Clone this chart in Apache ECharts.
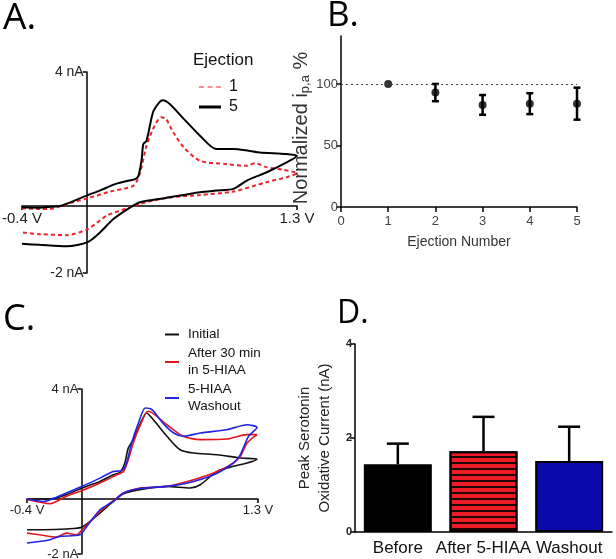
<!DOCTYPE html>
<html><head><meta charset="utf-8">
<script src="https://cdn.jsdelivr.net/npm/echarts@6/dist/echarts.min.js"></script>
<style>html,body{margin:0;padding:0;background:#fff}#c{width:616px;height:559px}</style>
</head><body><div id="c"></div>
<script>
// ---------- Panel A: cyclic voltammograms [potential (V), current (nA)] ----------
const cvA_ejection1 = [[-0.4,-0.07],[-0.3,-0.09],[-0.227,-0.09],[-0.125,0.06],[0.006,0.23],[0.144,0.43],[0.29,0.61],[0.33,1.0],[0.37,1.8],[0.41,2.3],[0.46,2.65],[0.49,2.6],[0.535,2.2],[0.6,1.75],[0.7,1.35],[0.865,1.25],[0.99,1.2],[1.04,1.28],[1.11,1.16],[1.215,1.08],[1.3,0.98],
  [1.236,0.86],[1.11,0.71],[0.906,0.43],[0.7,0.33],[0.49,0.24],[0.33,0.06],[0.247,-0.07],[0.124,-0.29],[0.006,-0.69],[-0.124,-0.87],[-0.29,-0.84],[-0.4,-0.79]];
const cvA_ejection5 = [[-0.4,-0.04],[-0.3,-0.05],[-0.2,-0.02],[-0.165,0.0],[-0.08,0.15],[0.0,0.31],[0.08,0.46],[0.18,0.66],[0.26,0.76],[0.3,0.8],[0.32,0.9],[0.34,1.4],[0.35,1.85],[0.37,1.95],[0.41,2.8],[0.45,3.1],[0.47,3.16],[0.515,3.04],[0.6,2.6],[0.7,2.1],[0.8,1.7],[0.906,1.7],[1.0,1.65],[1.07,1.6],[1.236,1.55],[1.3,1.5],
  [1.236,1.3],[1.11,1.0],[0.99,0.76],[0.906,0.51],[0.8,0.46],[0.7,0.41],[0.49,0.24],[0.33,0.11],[0.27,-0.04],[0.165,-0.39],[0.082,-0.79],[0.006,-1.08],[-0.124,-1.2],[-0.29,-1.16],[-0.4,-1.13]];
const cvRangeX = [-0.4, 1.3];
const cvRangeY = [-2, 4];

// ---------- Panel B ----------
const ejectionNumbers = [1, 2, 3, 4, 5];
const normalizedMean = [100, 93, 83, 84, 84];
const normalizedErr = [0, 7, 8, 8.5, 13];
const panelBTicksY = [0, 50, 100];

// ---------- Panel C ----------
const cvC_initial = [[-0.4,0],[-0.23,0],[-0.11,0.16],[0.006,0.4],[0.137,0.64],[0.235,0.88],[0.284,0.97],[0.32,1.31],[0.345,1.85],[0.382,2.16],[0.43,2.7],[0.48,3.13],[0.53,2.88],[0.63,2.28],[0.727,1.79],[0.825,1.67],[0.998,1.61],[1.17,1.49],[1.293,1.45],
  [1.22,1.31],[1.12,1.19],[0.998,1.0],[0.875,0.52],[0.8,0.4],[0.63,0.46],[0.43,0.34],[0.31,0.19],[0.235,-0.09],[0.137,-0.51],[0.006,-1.02],[-0.11,-1.09],[-0.28,-1.12],[-0.4,-1.12]];
const cvC_after = [[-0.4,-0.02],[-0.23,-0.17],[-0.11,0.1],[0.006,0.31],[0.137,0.58],[0.26,0.88],[0.31,1.0],[0.345,1.43],[0.382,2.04],[0.43,2.64],[0.49,3.19],[0.54,3.07],[0.63,2.7],[0.75,2.28],[0.875,2.16],[1.07,2.18],[1.22,2.34],[1.293,2.34],
  [1.22,2.04],[1.17,1.55],[1.12,1.31],[1.0,1.0],[0.825,0.7],[0.63,0.46],[0.43,0.4],[0.31,0.22],[0.235,-0.06],[0.137,-0.45],[0.006,-1.12],[-0.035,-1.3],[-0.11,-1.24],[-0.18,-1.38],[-0.31,-1.3],[-0.4,-1.24]];
const cvC_washout = [[-0.4,0],[-0.28,-0.09],[-0.11,0.22],[0.006,0.46],[0.137,0.76],[0.235,1.0],[0.3,1.04],[0.333,1.31],[0.37,2.04],[0.42,2.76],[0.47,3.31],[0.52,3.25],[0.6,2.76],[0.68,2.4],[0.75,2.28],[0.875,2.4],[1.07,2.52],[1.22,2.7],[1.293,2.6],
  [1.23,2.28],[1.17,1.61],[1.12,1.31],[1.0,0.94],[0.825,0.64],[0.63,0.46],[0.43,0.38],[0.31,0.22],[0.235,-0.09],[0.137,-0.39],[0.04,-1.0],[-0.01,-1.3],[-0.16,-1.36],[-0.23,-1.48],[-0.4,-1.6]];

// ---------- Panel D ----------
const conditions = ['Before', 'After 5-HIAA', 'Washout'];
const peakCurrent = [1.44, 1.72, 1.51];
const peakErr = [0.44, 0.73, 0.73];

const FONT = 'Liberation Sans';
const AXC = '#000';
const chart = echarts.init(document.getElementById('c'), null, {renderer: 'canvas'});

const grids = [
  {left: 22, top: 72, width: 275, height: 201, outerBoundsMode: 'none', containLabel: false},
  {left: 341, top: 36, width: 236, height: 171, outerBoundsMode: 'none', containLabel: false},
  {left: 27, top: 389, width: 231, height: 165, outerBoundsMode: 'none', containLabel: false},
  {left: 355, top: 344, width: 257, height: 188, outerBoundsMode: 'none', containLabel: false}
];

// the CV axes cross at the origin: shift each axis from the grid edge to the zero of the other axis
function cvAxisX(gi, fs) {
  const g = grids[gi];
  const off = -((0 - cvRangeY[0]) / (cvRangeY[1] - cvRangeY[0])) * g.height;
  return {type: 'value', gridIndex: gi, min: cvRangeX[0], max: cvRangeX[1], position: 'bottom', offset: off,
    axisLine: {onZero: false, lineStyle: {color: AXC, width: 1.5}},
    axisTick: {show: true, customValues: cvRangeX, length: 4, lineStyle: {color: AXC, width: 1.5}},
    axisLabel: {customValues: cvRangeX, formatter: v => v.toFixed(1) + ' V', fontSize: fs, color: '#222', margin: 5, fontFamily: FONT},
    splitLine: {show: false}};
}
function cvAxisY(gi, fs) {
  const g = grids[gi];
  const off = -((0 - cvRangeX[0]) / (cvRangeX[1] - cvRangeX[0])) * g.width;
  return {type: 'value', gridIndex: gi, min: cvRangeY[0], max: cvRangeY[1], position: 'left', offset: off,
    axisLine: {show: true, onZero: false, lineStyle: {color: AXC, width: 1.5}},
    axisTick: {show: true, customValues: cvRangeY, length: 4, lineStyle: {color: AXC, width: 1.5}},
    axisLabel: {customValues: cvRangeY, formatter: v => v + ' nA', fontSize: fs, color: '#222', margin: 3, fontFamily: FONT},
    splitLine: {show: false}};
}

const dashIcon = 'path://M0,0h4v1h-4z M7,0h4v1h-4z M14,0h4v1h-4z';

const option = {
  animation: false,
  textStyle: {fontFamily: FONT},
  title: [
    {text: 'A.', left: 3, top: 0, padding: 0, textStyle: {fontSize: 37, fontWeight: 'normal', fontFamily: 'Open Sans', color: '#000'}},
    {text: 'B.', left: 327, top: -1, padding: 0, textStyle: {fontSize: 35, fontWeight: 'normal', fontFamily: 'Open Sans', color: '#000'}},
    {text: 'C.', left: 3, top: 302, padding: 0, textStyle: {fontSize: 36, fontWeight: 'normal', fontFamily: 'Open Sans', color: '#000'}},
    {text: 'D.', left: 337, top: 298, padding: 0, textStyle: {fontSize: 32, fontWeight: 'normal', fontFamily: 'Open Sans', color: '#000'}},
    {text: 'Ejection', left: 193, top: 52, padding: 0, textStyle: {fontSize: 17, fontWeight: 'normal', fontFamily: FONT, color: '#111'}}
  ],
  legend: [
    {orient: 'vertical', left: 199, top: 78, padding: 0, itemWidth: 22, itemHeight: 3, itemGap: 2,
      textStyle: {fontSize: 16, lineHeight: 18, color: '#111', padding: [0, 0, 0, 3]},
      data: [{name: '1', icon: dashIcon, itemStyle: {color: '#e8252b'}}, {name: '5', icon: 'rect', itemStyle: {color: '#000'}}]},
    {orient: 'vertical', left: 165, top: 326, padding: 0, itemWidth: 14, itemHeight: 2, itemGap: 2,
      textStyle: {fontSize: 13.5, lineHeight: 17, color: '#111', padding: [0, 0, 0, 4]},
      data: [{name: 'Initial', icon: 'rect'}, {name: 'After 30 min\nin 5-HIAA', icon: 'rect'}, {name: '5-HIAA\nWashout', icon: 'rect'}]}
  ],
  grid: grids,
  xAxis: [
    cvAxisX(0, 15),
    {type: 'value', gridIndex: 1, min: 0, max: 5, interval: 1,
      axisLine: {onZero: false, lineStyle: {color: AXC, width: 1.5}},
      axisTick: {length: 5, lineStyle: {color: AXC, width: 1.5}},
      axisLabel: {fontSize: 13, color: '#444', margin: 8},
      splitLine: {show: false},
      name: 'Ejection Number', nameLocation: 'middle', nameGap: 28,
      nameTextStyle: {fontSize: 14, color: '#333'}},
    cvAxisX(2, 13),
    {type: 'category', gridIndex: 3, data: conditions,
      axisLine: {onZero: false, lineStyle: {color: AXC, width: 1.5}},
      axisTick: {show: false},
      axisLabel: {interval: 0, fontSize: 17, color: '#111', margin: 8}}
  ],
  yAxis: [
    cvAxisY(0, 14),
    {type: 'value', gridIndex: 1, min: 0, max: 139,
      axisLine: {show: true, onZero: false, lineStyle: {color: AXC, width: 1.5}},
      axisTick: {show: true, customValues: panelBTicksY, length: 5, lineStyle: {color: AXC, width: 1.5}},
      axisLabel: {customValues: panelBTicksY, fontSize: 13, color: '#444', margin: 3},
      splitLine: {show: false},
      name: 'Normalized i{sub|p,a} %', nameLocation: 'middle', nameGap: 29,
      nameTextStyle: {fontSize: 20, color: '#333', padding: [0, 13, 0, 0],
        rich: {sub: {fontSize: 13, padding: [9, 0, 0, 0], color: '#333'}}}},
    cvAxisY(2, 13),
    {type: 'value', gridIndex: 3, min: 0, max: 4, interval: 2,
      axisLine: {show: true, onZero: false, lineStyle: {color: AXC, width: 1.5}},
      axisTick: {show: true, length: 5, lineStyle: {color: AXC, width: 1.5}},
      axisLabel: {fontSize: 11, fontWeight: 'bold', color: '#222', margin: 3},
      splitLine: {show: false},
      name: 'Peak Serotonin\nOxidative Current (nA)', nameLocation: 'middle', nameGap: 20,
      nameTextStyle: {fontSize: 15, lineHeight: 20, color: '#222'}}
  ],
  series: [
    {name: '1', type: 'line', xAxisIndex: 0, yAxisIndex: 0, data: cvA_ejection1, symbol: 'none', smooth: 0.25,
      lineStyle: {color: '#e8252b', width: 2, type: [4, 3]}, itemStyle: {color: '#e8252b'}},
    {name: '5', type: 'line', xAxisIndex: 0, yAxisIndex: 0, data: cvA_ejection5, symbol: 'none', smooth: 0.25,
      lineStyle: {color: '#000', width: 2}, itemStyle: {color: '#000'}},
    {name: 'Normalized', type: 'scatter', xAxisIndex: 1, yAxisIndex: 1,
      data: ejectionNumbers.map((e, i) => [e, normalizedMean[i]]), symbolSize: 8, itemStyle: {color: '#000'}, z: 4,
      markLine: {silent: true, symbol: ['none', 'none'], label: {show: false}, data: [{yAxis: 100}],
        lineStyle: {type: [2, 3], color: '#444', width: 1.2}}},
    {name: 'NormErr', type: 'custom', xAxisIndex: 1, yAxisIndex: 1,
      data: ejectionNumbers.map((e, i) => [e, normalizedMean[i] - normalizedErr[i], normalizedMean[i] + normalizedErr[i]]),
      encode: {x: 0, y: [1, 2]}, z: 3,
      renderItem(params, api) {
        const x = api.value(0);
        const lo = api.coord([x, api.value(1)]);
        const hi = api.coord([x, api.value(2)]);
        if (Math.abs(lo[1] - hi[1]) < 0.5) return null;
        const w = 3.5, style = {stroke: '#000', lineWidth: 2.5};
        return {type: 'group', children: [
          {type: 'line', shape: {x1: lo[0], y1: lo[1], x2: hi[0], y2: hi[1]}, style},
          {type: 'line', shape: {x1: lo[0] - w, y1: lo[1], x2: lo[0] + w, y2: lo[1]}, style},
          {type: 'line', shape: {x1: hi[0] - w, y1: hi[1], x2: hi[0] + w, y2: hi[1]}, style}]};
      }},
    {name: 'Initial', type: 'line', xAxisIndex: 2, yAxisIndex: 2, data: cvC_initial, symbol: 'none', smooth: 0.25,
      lineStyle: {color: '#111', width: 1.6}, itemStyle: {color: '#111'}},
    {name: 'After 30 min\nin 5-HIAA', type: 'line', xAxisIndex: 2, yAxisIndex: 2, data: cvC_after, symbol: 'none', smooth: 0.25,
      lineStyle: {color: '#e3171d', width: 1.6}, itemStyle: {color: '#e3171d'}},
    {name: '5-HIAA\nWashout', type: 'line', xAxisIndex: 2, yAxisIndex: 2, data: cvC_washout, symbol: 'none', smooth: 0.25,
      lineStyle: {color: '#2323e6', width: 1.6}, itemStyle: {color: '#2323e6'}},
    {name: 'Peak', type: 'bar', xAxisIndex: 3, yAxisIndex: 3, barWidth: 68,
      data: [
        {value: peakCurrent[0], itemStyle: {color: '#000'}},
        {value: peakCurrent[1], itemStyle: {color: '#ec1c24', decal: {symbol: 'rect', symbolSize: 1, dashArrayX: [1, 0], dashArrayY: [1.4, 3.3], color: 'rgba(0,0,0,0.85)', rotation: 0}}},
        {value: peakCurrent[2], itemStyle: {color: '#0b0bab'}}
      ],
      itemStyle: {borderColor: '#000', borderWidth: 2}},
    {name: 'PeakErr', type: 'custom', xAxisIndex: 3, yAxisIndex: 3,
      data: conditions.map((c, i) => [i, peakCurrent[i], peakCurrent[i] + peakErr[i]]),
      encode: {x: 0, y: [1, 2]}, z: 5,
      renderItem(params, api) {
        const x = api.value(0);
        const lo = api.coord([x, api.value(1)]);
        const hi = api.coord([x, api.value(2)]);
        const w = 11, style = {stroke: '#000', lineWidth: 2.5};
        return {type: 'group', children: [
          {type: 'line', shape: {x1: lo[0], y1: lo[1], x2: hi[0], y2: hi[1]}, style},
          {type: 'line', shape: {x1: hi[0] - w, y1: hi[1], x2: hi[0] + w, y2: hi[1]}, style}]};
      }}
  ]
};
chart.setOption(option);
</script></body></html>
